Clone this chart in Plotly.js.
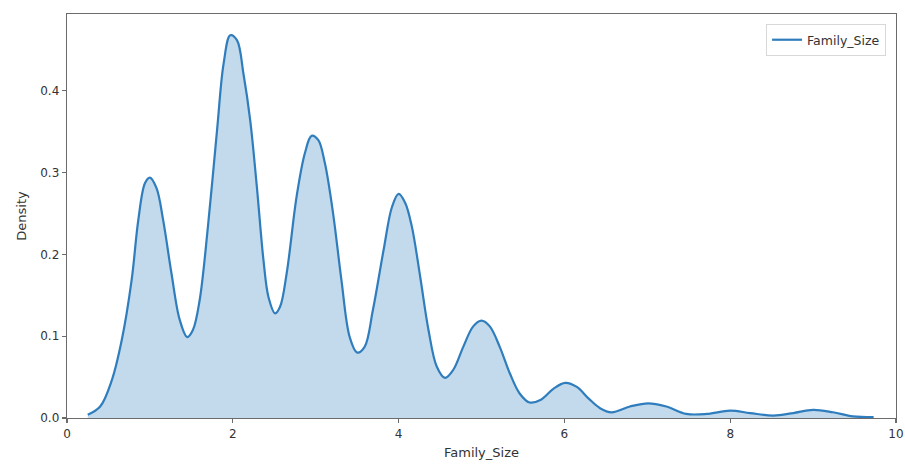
<!DOCTYPE html>
<html>
<head>
<meta charset="utf-8">
<script src="https://cdn.plot.ly/plotly-3.0.1.min.js"></script>
<style>html,body{margin:0;padding:0;background:#fff}#chart{width:905px;height:468px}</style>
</head>
<body>
<div id="chart"></div>
<script>
// KDE of Family_Size
const familySize = [0.25, 0.4, 0.54, 0.66, 0.78, 0.86, 0.94, 1.0, 1.08, 1.16, 1.26, 1.36, 1.45, 1.52, 1.6, 1.7, 1.81, 1.89, 1.97, 2.05, 2.13, 2.21, 2.29, 2.37, 2.43, 2.51, 2.57, 2.65, 2.77, 2.87, 2.95, 3.03, 3.11, 3.21, 3.31, 3.41, 3.5, 3.59, 3.69, 3.82, 3.92, 4.0, 4.08, 4.16, 4.26, 4.36, 4.46, 4.56, 4.66, 4.78, 4.9, 5.0, 5.1, 5.22, 5.34, 5.46, 5.58, 5.71, 5.87, 6.01, 6.15, 6.29, 6.43, 6.57, 6.79, 7.01, 7.23, 7.47, 7.72, 8.0, 8.24, 8.52, 8.76, 9.0, 9.24, 9.48, 9.73];
const density = [0.004, 0.014, 0.046, 0.095, 0.169, 0.242, 0.287, 0.294, 0.281, 0.242, 0.177, 0.12, 0.099, 0.108, 0.144, 0.234, 0.352, 0.434, 0.468, 0.462, 0.42, 0.364, 0.283, 0.193, 0.148, 0.128, 0.136, 0.177, 0.271, 0.324, 0.345, 0.34, 0.312, 0.25, 0.169, 0.099, 0.08, 0.087, 0.132, 0.206, 0.258, 0.274, 0.263, 0.234, 0.173, 0.108, 0.063, 0.049, 0.059, 0.087, 0.112, 0.119, 0.112, 0.087, 0.055, 0.03, 0.019, 0.022, 0.036, 0.043, 0.038, 0.024, 0.012, 0.007, 0.014, 0.018, 0.014, 0.005, 0.005, 0.009, 0.006, 0.003, 0.006, 0.01, 0.007, 0.002, 0.001];
const seriesName = "Family_Size";
const xTicks = [0, 2, 4, 6, 8, 10];
const yTicks = [0.0, 0.1, 0.2, 0.3, 0.4];

const blue = "#2f7dbd";
const traces = [
  {x: familySize, y: density, type: "scatter", mode: "lines", fill: "tozeroy",
   fillcolor: "rgba(31,119,180,0.27)", line: {width: 0, shape: "spline", color: blue},
   showlegend: false, hoverinfo: "skip"},
  {x: familySize, y: density, type: "scatter", mode: "lines", name: seriesName,
   line: {width: 2.2, shape: "spline", color: blue}}
];

const axisCommon = {
  showgrid: false, zeroline: false, showline: true, mirror: true,
  linecolor: "#6b6b6b", linewidth: 1.3, ticks: "outside", ticklen: 4,
  tickcolor: "#6b6b6b", tickwidth: 1.2,
  tickfont: {family: "DejaVu Sans", size: 12, color: "#333"}
};

const layout = {
  width: 905, height: 468,
  margin: {l: 67, r: 9, t: 14, b: 50},
  paper_bgcolor: "#fff", plot_bgcolor: "#fff",
  font: {family: "DejaVu Sans", color: "#333"},
  xaxis: Object.assign({}, axisCommon, {
    range: [0, 10], tickvals: xTicks, ticktext: xTicks.map(String),
    title: {text: "Family_Size", font: {family: "DejaVu Sans", size: 13, color: "#333"}, standoff: 8}
  }),
  yaxis: Object.assign({}, axisCommon, {
    range: [0, 0.494], tickvals: yTicks, ticktext: yTicks.map(v => v.toFixed(1)),
    title: {text: "Density", font: {family: "DejaVu Sans", size: 13, color: "#333"}, standoff: 10}
  }),
  legend: {
    x: 0.988, y: 0.975, xanchor: "right", yanchor: "top",
    bgcolor: "#fff", bordercolor: "#d8d8d8", borderwidth: 1,
    font: {family: "DejaVu Sans", size: 12.5, color: "#333"},
    itemwidth: 30
  },
  showlegend: true
};

Plotly.newPlot("chart", traces, layout, {displayModeBar: false, staticPlot: true});
</script>
</body>
</html>
